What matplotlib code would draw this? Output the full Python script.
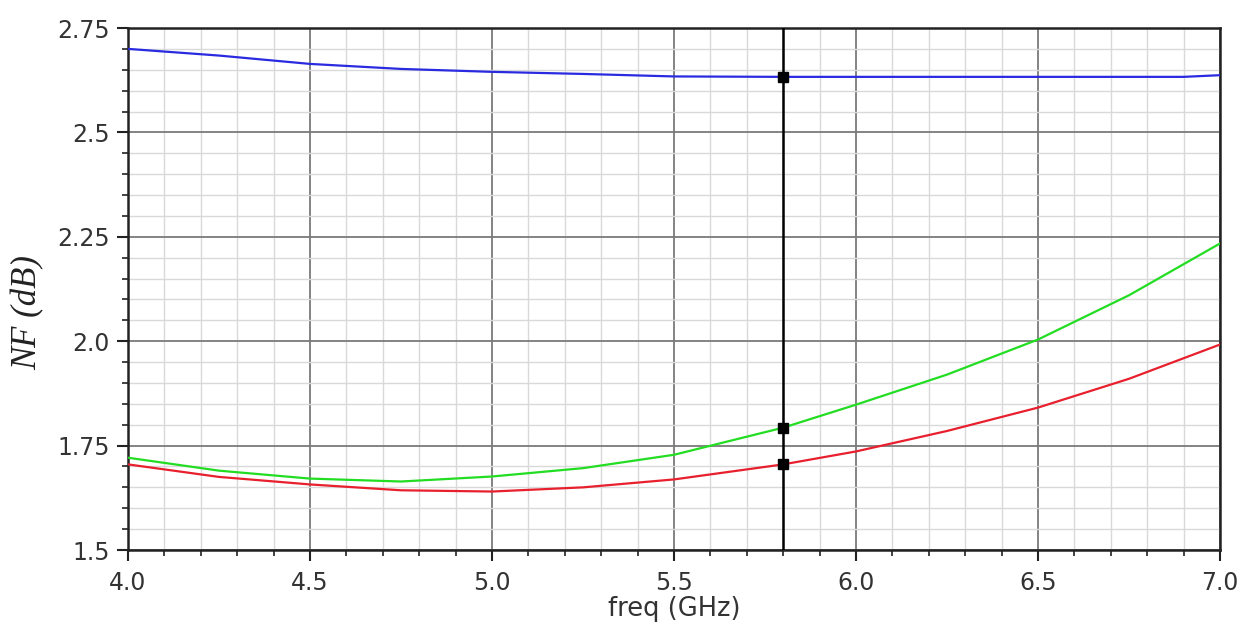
import matplotlib
matplotlib.use("Agg")
import matplotlib.pyplot as plt
from matplotlib.ticker import MultipleLocator, FixedLocator

freq_blue = [4.0, 4.25, 4.5, 4.75, 5.0, 5.25, 5.5, 5.8, 6.0, 6.5, 6.9, 7.0]
nf_blue = [2.700, 2.684, 2.664, 2.652, 2.645, 2.640, 2.634, 2.633, 2.633, 2.633, 2.633, 2.637]

freq_gr = [4.0, 4.25, 4.5, 4.75, 5.0, 5.25, 5.5, 5.8, 6.0, 6.25, 6.5, 6.75, 7.0]
nf_green = [1.721, 1.690, 1.671, 1.664, 1.676, 1.696, 1.728, 1.793, 1.848, 1.920, 2.004, 2.110, 2.234]
nf_red = [1.705, 1.675, 1.657, 1.643, 1.640, 1.650, 1.669, 1.705, 1.736, 1.785, 1.841, 1.910, 1.992]

marker_freq = 5.8
marker_vals = [2.633, 1.793, 1.705]

xticks = [4.0, 4.5, 5.0, 5.5, 6.0, 6.5, 7.0]
xtick_labels = ["4.0", "4.5", "5.0", "5.5", "6.0", "6.5", "7.0"]
yticks = [1.5, 1.75, 2.0, 2.25, 2.5, 2.75]
ytick_labels = ["1.5", "1.75", "2.0", "2.25", "2.5", "2.75"]

fig = plt.figure(figsize=(12.55, 6.29), dpi=100)
ax = fig.add_axes([128/1255, 1-550/629, (1220-128)/1255, (550-28)/629])

ax.set_xlim(4.0, 7.0)
ax.set_ylim(1.5, 2.75)
ax.xaxis.set_major_locator(FixedLocator(xticks))
ax.set_xticklabels(xtick_labels)
ax.yaxis.set_major_locator(FixedLocator(yticks))
ax.set_yticklabels(ytick_labels)
ax.xaxis.set_minor_locator(MultipleLocator(0.1))
ax.yaxis.set_minor_locator(MultipleLocator(0.05))

ax.grid(which="minor", color="#d9d9d9", linewidth=1.0)
ax.grid(which="major", color="#7a7a7a", linewidth=1.3)
ax.set_axisbelow(True)

ax.plot(freq_blue, nf_blue, color="#2a2ae0", linewidth=1.6, zorder=3)
ax.plot(freq_gr, nf_green, color="#22dd22", linewidth=1.6, zorder=3)
ax.plot(freq_gr, nf_red, color="#e8202e", linewidth=1.6, zorder=3)

ax.axvline(marker_freq, color="black", linewidth=1.8, zorder=4)
ax.plot([marker_freq]*len(marker_vals), marker_vals, linestyle="none", marker="s",
        markersize=7, color="black", zorder=5)

for s in ax.spines.values():
    s.set_color("#222222")
    s.set_linewidth(1.8)

ax.tick_params(which="major", direction="out", length=8, width=1.5, colors="#222222",
               labelsize=17, labelcolor="#333333", pad=5)
ax.tick_params(which="minor", direction="out", length=4, width=1.2, colors="#222222")
ax.tick_params(axis="x", which="major", pad=7)

ax.set_xlabel("freq (GHz)", fontsize=18.5, color="#333333")
ax.xaxis.set_label_coords(0.5, -(596-550)/522)
ax.set_ylabel("NF (dB)", fontsize=25, fontstyle="italic", family="Liberation Serif",
              color="#222222")
ax.yaxis.set_label_coords((45-128)/1092, (550-312)/522)

fig.savefig("out.png", dpi=100)
